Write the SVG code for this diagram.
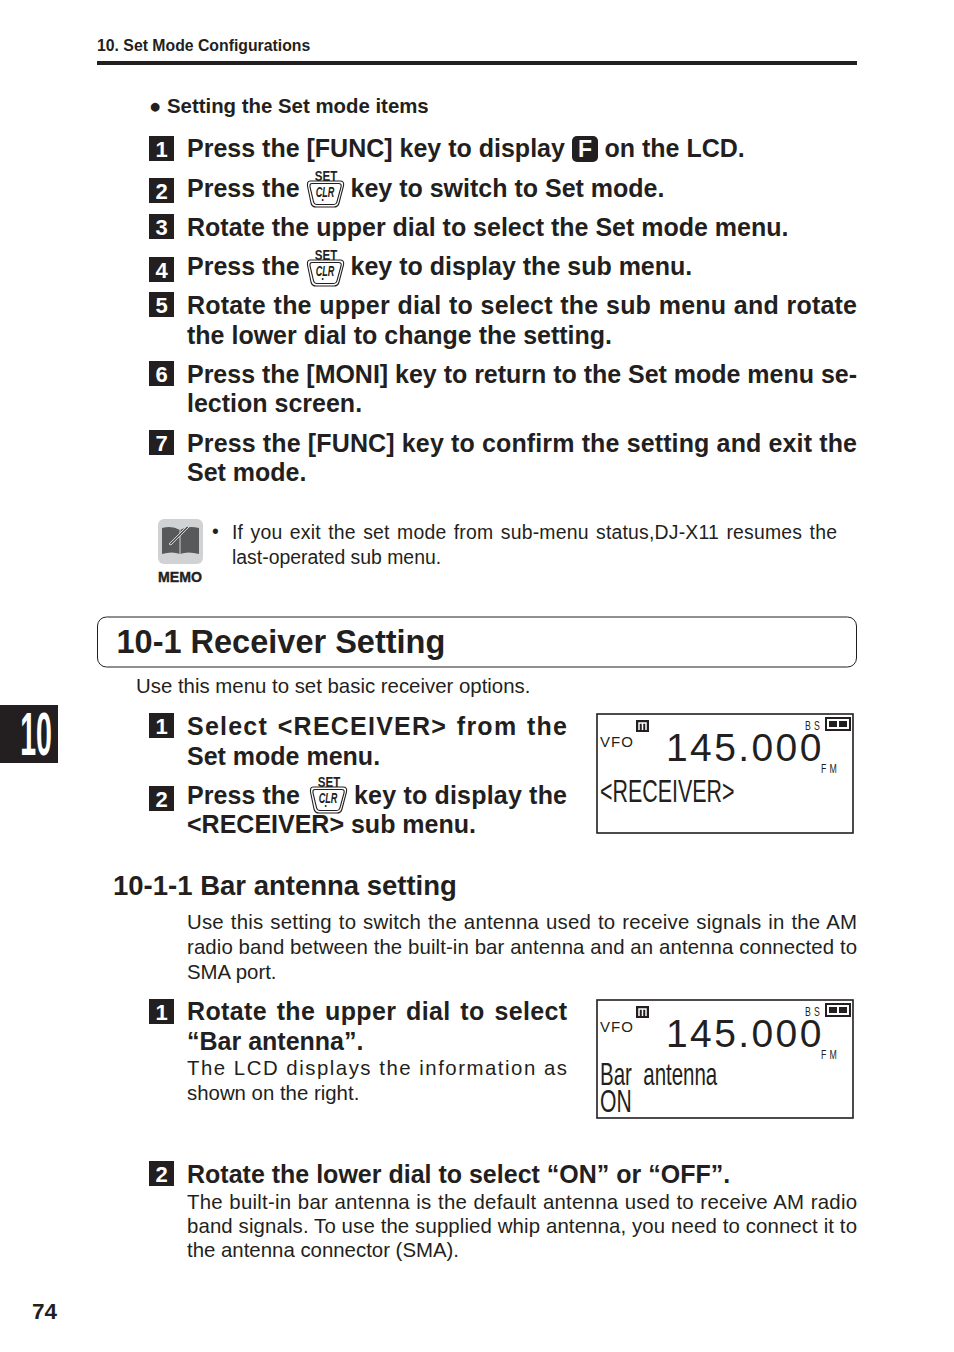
<svg xmlns="http://www.w3.org/2000/svg" width="954" height="1352" viewBox="0 0 954 1352">
<style>
text{font-family:"Liberation Sans",Arial,sans-serif;fill:#231f20}
.b{font-weight:700}
.s{font-weight:700;font-size:25px}
.n{font-size:20.400px}
.m{font-size:19.400px}
.bd{fill:#231f20}
.bt{font-weight:700;font-size:22px;text-anchor:middle}
.bt{fill:#fff}
.lcd{fill:#fff;stroke:#231f20;stroke-width:1.600}
.f{font-size:39px;letter-spacing:2.400px}
.sm{font-size:12.500px;letter-spacing:4.500px}
.v{font-size:15px;letter-spacing:1px}
.kb{fill:#fff;stroke:#231f20;stroke-width:1.100}
.kt{font-size:15px;font-weight:700;text-anchor:middle}
.ki{font-size:14px;font-style:italic;font-weight:700;text-anchor:middle}
</style>
<rect width="954" height="1352" fill="#fff"/>
<g id="header">
<text class="b" x="97" y="51" font-size="15.800">10. Set Mode Configurations</text>
<rect x="97" y="61" width="760" height="4" fill="#231f20"/>
</g>
<text id="heading-items" class="b" x="149" y="113" font-size="20.400">● Setting the Set mode items</text>
<g id="step-1"><rect class="bd" x="149" y="136" width="25" height="25"/><text class="bt" x="161.500" y="156.500">1</text>
<text class="s" x="187" y="157">Press the [FUNC] key to display</text>
<rect x="572" y="136" width="26" height="26" rx="5" fill="#231f20"/><text x="585" y="157" font-size="23" font-weight="700" text-anchor="middle" style="fill:#fff">F</text>
<text class="s" x="604.500" y="157">on the LCD.</text></g>
<g id="step-2"><rect class="bd" x="149" y="178" width="25" height="25"/><text class="bt" x="161.500" y="198.500">2</text>
<text class="s" x="187" y="197">Press the</text>
<g id="key-1" transform="translate(307,168)"><path class="kb" d="M3 13 H33 Q37.500 13 36.500 18 L32 35 Q31 39 27 39 H9 Q5 39 4 35 L0.500 18 Q0 13 3 13Z"/><path class="kb" d="M5 15.500 H31.500 Q35 15.500 34 19 L30 33.500 Q29.500 36.500 26 36.500 H10 Q7 36.500 6.500 33.500 L3 19 Q2.500 15.500 5 15.500Z"/><text class="kt" transform="translate(19,12.500) scale(0.77,1)">SET</text><text class="ki" transform="translate(18,29) scale(0.65,1)">CLR</text><circle cx="15.700" cy="32" r="1" fill="#231f20"/></g>
<text class="s" x="350.500" y="197">key to switch to Set mode.</text></g>
<g id="step-3"><rect class="bd" x="149" y="214" width="25" height="25"/><text class="bt" x="161.500" y="234.500">3</text>
<text class="s" x="187" y="236">Rotate the upper dial to select the Set mode menu.</text></g>
<g id="step-4"><rect class="bd" x="149" y="257" width="25" height="25"/><text class="bt" x="161.500" y="277.500">4</text>
<text class="s" x="187" y="275">Press the</text>
<g id="key-2" transform="translate(307,247)"><path class="kb" d="M3 13 H33 Q37.500 13 36.500 18 L32 35 Q31 39 27 39 H9 Q5 39 4 35 L0.500 18 Q0 13 3 13Z"/><path class="kb" d="M5 15.500 H31.500 Q35 15.500 34 19 L30 33.500 Q29.500 36.500 26 36.500 H10 Q7 36.500 6.500 33.500 L3 19 Q2.500 15.500 5 15.500Z"/><text class="kt" transform="translate(19,12.500) scale(0.77,1)">SET</text><text class="ki" transform="translate(18,29) scale(0.65,1)">CLR</text><circle cx="15.700" cy="32" r="1" fill="#231f20"/></g>
<text class="s" x="350.500" y="275">key to display the sub menu.</text></g>
<g id="step-5"><rect class="bd" x="149" y="292" width="25" height="25"/><text class="bt" x="161.500" y="312.500">5</text>
<text class="s" x="187" y="314" textLength="670" word-spacing="0.500">Rotate the upper dial to select the sub menu and rotate</text>
<text class="s" x="187" y="344">the lower dial to change the setting.</text></g>
<g id="step-6"><rect class="bd" x="149" y="361" width="25" height="25"/><text class="bt" x="161.500" y="381.500">6</text>
<text class="s" x="187" y="383" textLength="670">Press the [MONI] key to return to the Set mode menu se-</text>
<text class="s" x="187" y="412">lection screen.</text></g>
<g id="step-7"><rect class="bd" x="149" y="430" width="25" height="25"/><text class="bt" x="161.500" y="450.500">7</text>
<text class="s" x="187" y="452" textLength="670">Press the [FUNC] key to confirm the setting and exit the</text>
<text class="s" x="187" y="481">Set mode.</text></g>
<g id="memo">
<rect x="158" y="519" width="45" height="45" rx="6" fill="#d1d2d4"/>
<path d="M162 528 Q172 525 180 530 Q188 525 199 528 V554 Q188 551 180 554 Q172 551 162 554Z" fill="#58595b"/>
<path d="M180 530V555" stroke="#d1d2d4" stroke-width="1"/>
<path d="M169 544 L187 526 L189 527 L171 545Z" fill="#58595b" stroke="#d1d2d4" stroke-width="1"/>
<text class="b" x="158" y="582" font-size="15" textLength="44" lengthAdjust="spacingAndGlyphs" stroke="#231f20" stroke-width="0.400">MEMO</text>
<text class="m" x="212" y="538">•</text>
<text class="m" x="232" y="539" textLength="605" word-spacing="1.800">If you exit the set mode from sub-menu status,DJ-X11 resumes the</text>
<text class="m" x="232" y="564">last-operated sub menu.</text>
</g>
<g id="section-10-1">
<rect x="97.500" y="617" width="759" height="50" rx="9" fill="#fff" stroke="#231f20" stroke-width="1"/>
<text class="b" x="116.500" y="653" font-size="32.500">10-1 Receiver Setting</text>
</g>
<g id="chapter-tab"><rect x="0" y="705" width="58" height="58" fill="#231f20"/><text class="b" font-size="62" transform="translate(36,755) scale(0.46,1)" text-anchor="middle" style="fill:#fff">10</text></g>
<text id="intro" class="n" x="136" y="693">Use this menu to set basic receiver options.</text>
<g id="r-step-1"><rect class="bd" x="149" y="713" width="25" height="25"/><text class="bt" x="161.500" y="733.500">1</text>
<text class="s" x="187" y="735" textLength="380" word-spacing="1.500">Select &lt;RECEIVER&gt; from the</text>
<text class="s" x="187" y="765">Set mode menu.</text></g>
<g id="r-step-2"><rect class="bd" x="149" y="786" width="25" height="25"/><text class="bt" x="161.500" y="806.500">2</text>
<text class="s" x="187" y="804" textLength="113">Press the</text>
<g id="key-3" transform="translate(310,774)"><path class="kb" d="M3 13 H33 Q37.500 13 36.500 18 L32 35 Q31 39 27 39 H9 Q5 39 4 35 L0.500 18 Q0 13 3 13Z"/><path class="kb" d="M5 15.500 H31.500 Q35 15.500 34 19 L30 33.500 Q29.500 36.500 26 36.500 H10 Q7 36.500 6.500 33.500 L3 19 Q2.500 15.500 5 15.500Z"/><text class="kt" transform="translate(19,12.500) scale(0.77,1)">SET</text><text class="ki" transform="translate(18,29) scale(0.65,1)">CLR</text><circle cx="15.700" cy="32" r="1" fill="#231f20"/></g>
<text class="s" x="354" y="804" textLength="213">key to display the</text>
<text class="s" x="187" y="833">&lt;RECEIVER&gt; sub menu.</text></g>
<g id="lcd-1"><rect class="lcd" x="597" y="714" width="256" height="119"/>
<rect x="636" y="720" width="13" height="12" fill="#231f20"/><path d="M639 730V723H646V730M642.500 723V730" fill="none" stroke="#fff" stroke-width="1.500"/>
<text class="sm" transform="translate(805,730) scale(0.7,1)">BS</text>
<rect x="826" y="718" width="24" height="12" fill="#fff" stroke="#231f20" stroke-width="2"/><rect x="829" y="721" width="8" height="6" fill="#231f20"/><rect x="839" y="721" width="8" height="6" fill="#231f20"/>
<text class="v" x="600" y="747">VFO</text>
<text class="f" x="666" y="761">145.000</text>
<text class="sm" transform="translate(821,773) scale(0.7,1)">FM</text>
<text font-size="32" transform="translate(600,802) scale(0.67,1)">&lt;RECEIVER&gt;</text>
</g>
<text id="sub-heading" class="b" x="113" y="895" font-size="27.500">10-1-1 Bar antenna setting</text>
<g id="sub-body">
<text class="n" x="187" y="929" textLength="670" word-spacing="1">Use this setting to switch the antenna used to receive signals in the AM</text>
<text class="n" x="187" y="954" textLength="670">radio band between the built-in bar antenna and an antenna connected to</text>
<text class="n" x="187" y="979">SMA port.</text>
</g>
<g id="b-step-1"><rect class="bd" x="149" y="999" width="25" height="25"/><text class="bt" x="161.500" y="1019.500">1</text>
<text class="s" x="187" y="1020" textLength="380" word-spacing="2.500">Rotate the upper dial to select</text>
<text class="s" x="187" y="1050">“Bar antenna”.</text>
<text class="n" x="187" y="1075" textLength="380">The LCD displays the information as</text>
<text class="n" x="187" y="1100">shown on the right.</text></g>
<g id="lcd-2"><rect class="lcd" x="597" y="1000" width="256" height="118"/>
<rect x="636" y="1006" width="13" height="12" fill="#231f20"/><path d="M639 1016V1009H646V1016M642.500 1009V1016" fill="none" stroke="#fff" stroke-width="1.500"/>
<text class="sm" transform="translate(805,1016) scale(0.7,1)">BS</text>
<rect x="826" y="1004" width="24" height="12" fill="#fff" stroke="#231f20" stroke-width="2"/><rect x="829" y="1007" width="8" height="6" fill="#231f20"/><rect x="839" y="1007" width="8" height="6" fill="#231f20"/>
<text class="v" x="600" y="1032">VFO</text>
<text class="f" x="666" y="1047">145.000</text>
<text class="sm" transform="translate(821,1059) scale(0.7,1)">FM</text>
<text font-size="32" transform="translate(600,1085) scale(0.64,1)" xml:space="preserve">Bar  antenna</text>
<text font-size="32" transform="translate(600,1112) scale(0.66,1)">ON</text>
</g>
<g id="b-step-2"><rect class="bd" x="149" y="1161" width="25" height="25"/><text class="bt" x="161.500" y="1181.500">2</text>
<text class="s" x="187" y="1183">Rotate the lower dial to select “ON” or “OFF”.</text>
<text class="n" x="187" y="1209" textLength="670" word-spacing="0.500">The built-in bar antenna is the default antenna used to receive AM radio</text>
<text class="n" x="187" y="1233" textLength="670">band signals. To use the supplied whip antenna, you need to connect it to</text>
<text class="n" x="187" y="1257">the antenna connector (SMA).</text></g>
<text id="page-number" class="b" x="32" y="1319" font-size="22.500">74</text>
</svg>
